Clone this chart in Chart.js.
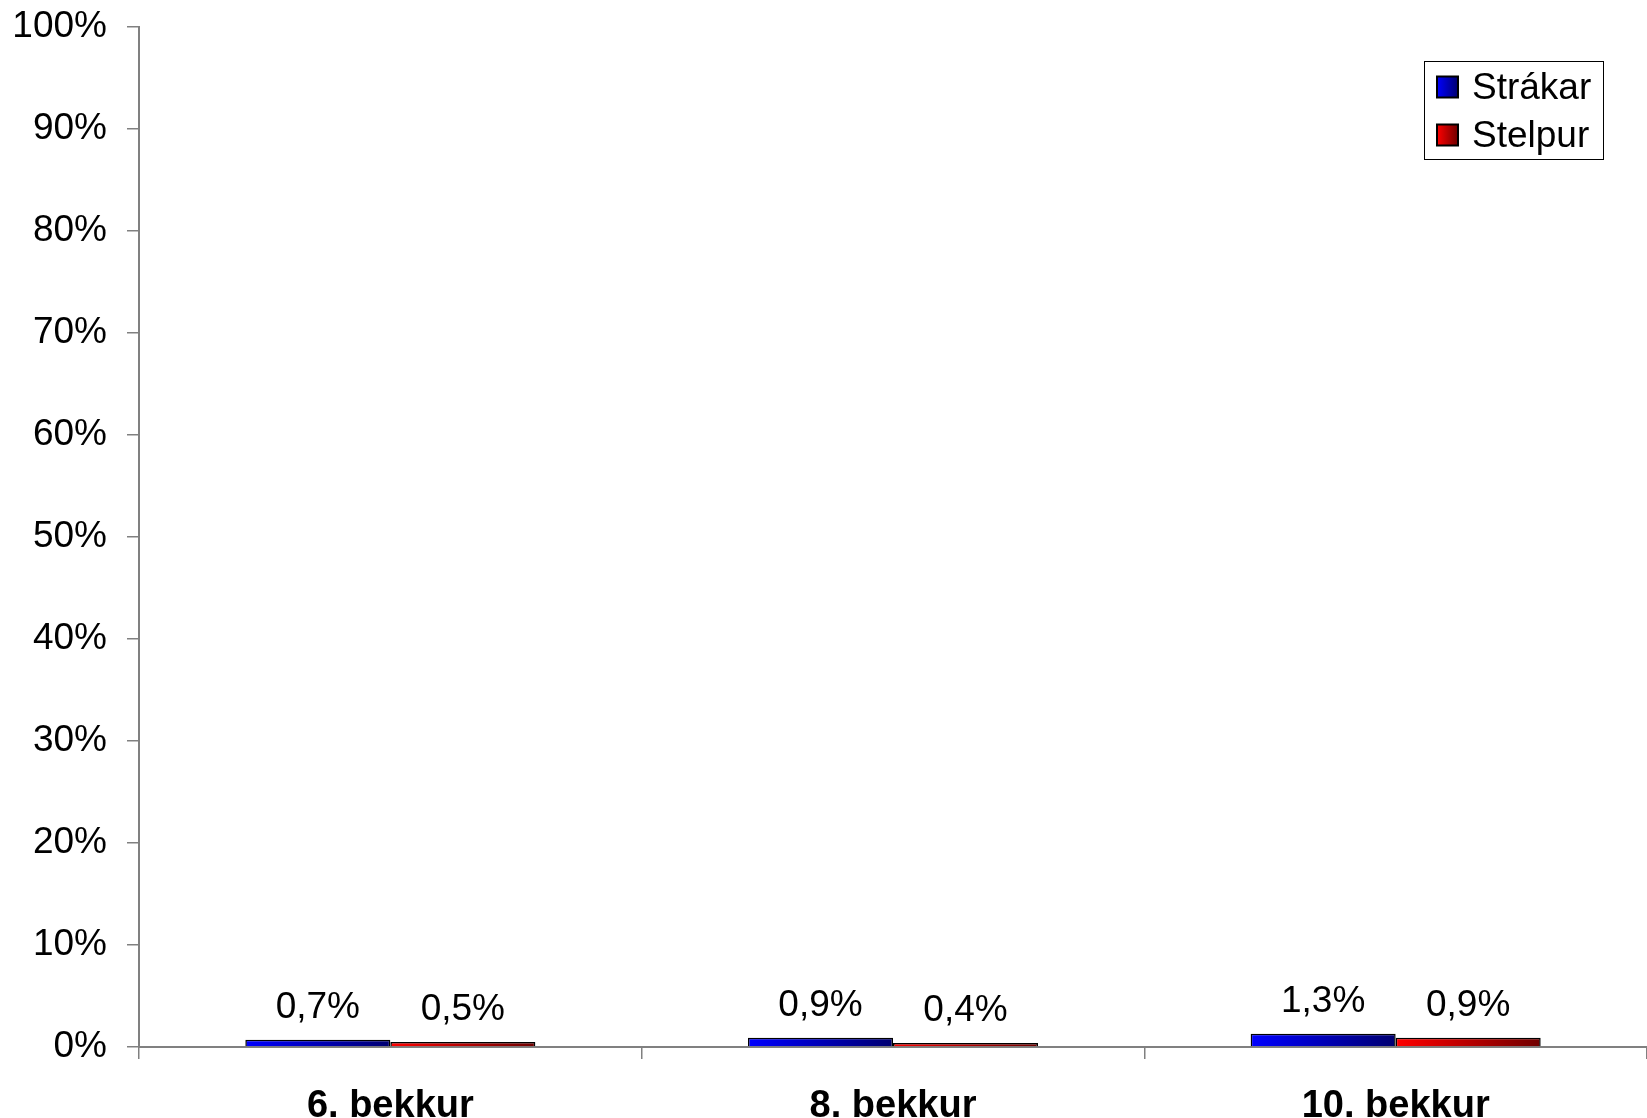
<!DOCTYPE html>
<html>
<head>
<meta charset="utf-8">
<script src="https://cdn.jsdelivr.net/npm/chart.js@4/dist/chart.umd.min.js"></script>
<style>
  html, body { margin: 0; padding: 0; background: #fff; }
  #wrap { width: 1647px; height: 1118px; }
</style>
</head>
<body>
<div id="wrap"><canvas id="chart" width="1647" height="1118"></canvas></div>
<script>
const categories = ['6. bekkur', '8. bekkur', '10. bekkur'];
const boys = [0.7, 0.9, 1.3];
const girls = [0.5, 0.4, 0.9];
const seriesNames = ['Strákar', 'Stelpur'];

const FONT = '"Liberation Sans", Arial, sans-serif';
const catPct = 0.577;
const gradColors = [['#0000ff', '#000070'], ['#ff0000', '#700000']];

// horizontal gradient across each bar, worked out from the x scale
function barGradient(ctx) {
  const chart = ctx.chart;
  const cols = gradColors[ctx.datasetIndex];
  const x = chart.scales.x;
  if (ctx.type !== 'data' || !x) return cols[0];
  const catW = x.width / categories.length;
  const bw = catW * catPct / 2;
  const left = x.getPixelForValue(ctx.dataIndex) - catW * catPct / 2 + ctx.datasetIndex * bw;
  if (!isFinite(left) || !isFinite(bw) || bw <= 0) return cols[0];
  const g = chart.ctx.createLinearGradient(left, 0, left + bw, 0);
  g.addColorStop(0, cols[0]);
  g.addColorStop(1, cols[1]);
  return g;
}

const valueLabels = {
  id: 'valueLabels',
  afterDatasetsDraw(chart) {
    const c = chart.ctx;
    c.save();
    c.font = '37px ' + FONT;
    c.fillStyle = '#000';
    c.textAlign = 'center';
    c.textBaseline = 'middle';
    chart.data.datasets.forEach((ds, i) => {
      chart.getDatasetMeta(i).data.forEach((bar, j) => {
        const txt = ds.data[j].toFixed(1).replace('.', ',') + '%';
        c.fillText(txt, bar.x, bar.y - 32);
      });
    });
    c.restore();
  }
};

const boxLegend = {
  id: 'boxLegend',
  afterDraw(chart) {
    const c = chart.ctx;
    const area = chart.chartArea;
    const w = 179, h = 98;
    const x0 = area.right - 44 - w, y0 = 61;
    c.save();
    c.fillStyle = '#fff';
    c.fillRect(x0, y0, w, h);
    c.strokeStyle = '#000';
    c.lineWidth = 1;
    c.strokeRect(x0 + 0.5, y0 + 0.5, w, h);
    c.font = '37px ' + FONT;
    c.textBaseline = 'middle';
    c.textAlign = 'left';
    seriesNames.forEach((name, i) => {
      const cy = y0 + 26 + i * 48;
      const bx = x0 + 13, s = 21;
      const g = c.createLinearGradient(bx, 0, bx + s, 0);
      g.addColorStop(0, gradColors[i][0]);
      g.addColorStop(1, gradColors[i][1]);
      c.fillStyle = g;
      c.fillRect(bx, cy - s / 2, s, s);
      c.lineWidth = 2;
      c.strokeRect(bx, cy - s / 2, s, s);
      c.fillStyle = '#000';
      c.fillText(name, x0 + 48, cy + 2);
    });
    c.restore();
  }
};

new Chart(document.getElementById('chart'), {
  type: 'bar',
  data: {
    labels: categories,
    datasets: [
      { label: seriesNames[0], data: boys, backgroundColor: barGradient, borderColor: '#000', borderWidth: 1.5, borderSkipped: 'bottom' },
      { label: seriesNames[1], data: girls, backgroundColor: barGradient, borderColor: '#000', borderWidth: 1.5, borderSkipped: 'bottom' }
    ]
  },
  options: {
    responsive: false,
    animation: false,
    layout: { padding: { top: 27, right: 0, left: 0, bottom: 0 } },
    datasets: { bar: { categoryPercentage: catPct, barPercentage: 1 } },
    plugins: {
      legend: { display: false },
      tooltip: { enabled: false }
    },
    scales: {
      x: {
        afterFit(scale) { scale.height = 71; scale.paddingLeft = 0; scale.paddingRight = 0; },
        grid: { display: true, drawOnChartArea: false, drawTicks: true, tickLength: 12, color: '#808080', lineWidth: 1.5, offset: true },
        border: { display: true, color: '#808080', width: 2 },
        ticks: { color: '#000', font: { family: FONT, size: 38, weight: 'bold' }, padding: 25, maxRotation: 0 }
      },
      y: {
        min: 0,
        max: 100,
        afterFit(scale) { scale.width = 139; scale.paddingTop = 0; scale.paddingBottom = 0; },
        grid: { display: true, drawOnChartArea: false, drawTicks: true, tickLength: 12, color: '#808080', lineWidth: 1.5 },
        border: { display: true, color: '#808080', width: 2 },
        ticks: { stepSize: 10, color: '#000', font: { family: FONT, size: 37 }, padding: 20, callback: v => v + '%' }
      }
    }
  },
  plugins: [valueLabels, boxLegend]
});
</script>
</body>
</html>
